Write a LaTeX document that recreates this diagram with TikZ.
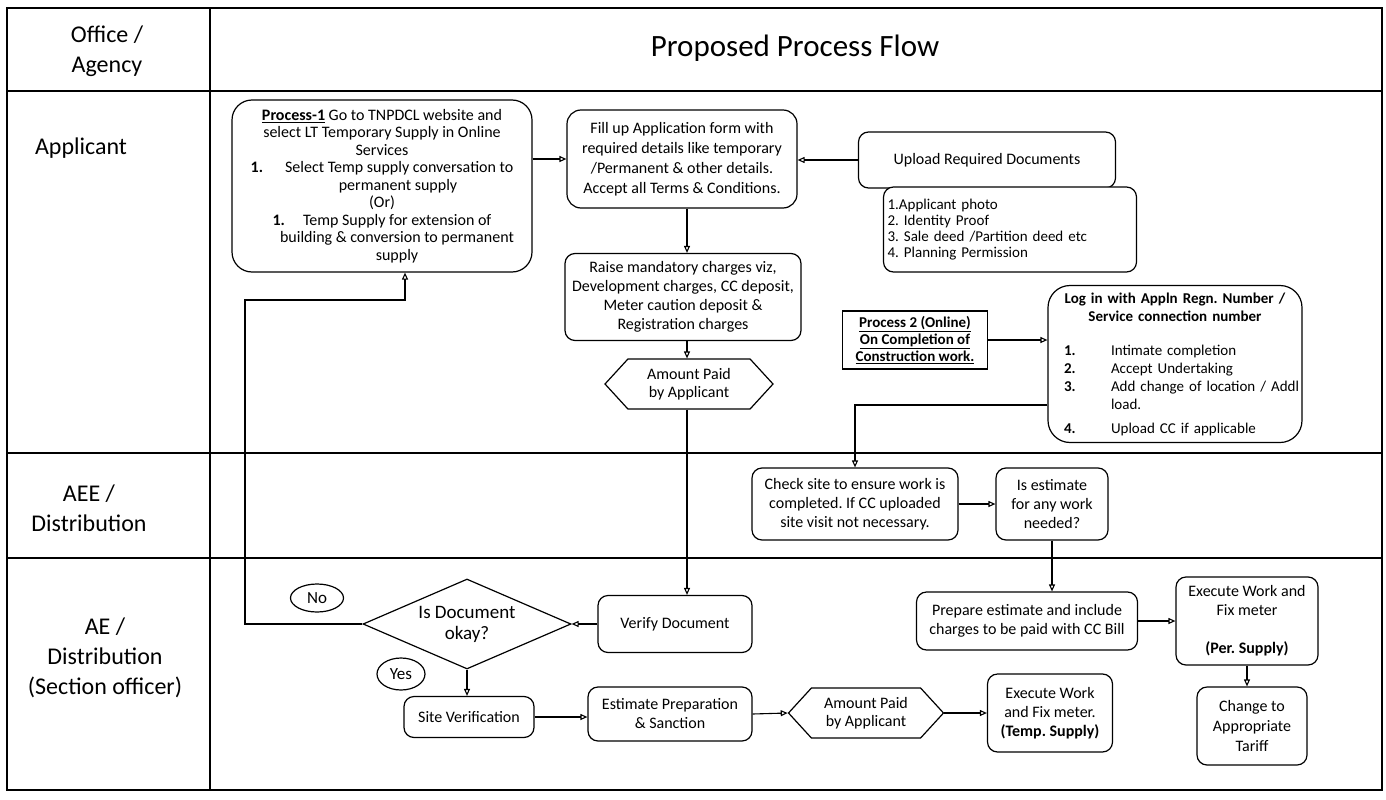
\documentclass[tikz,border=0pt]{standalone}
\usepackage{fontspec}
\setmainfont{Carlito}
\usetikzlibrary{arrows.meta,shapes.symbols,shapes.geometric}
\begin{document}
\frenchspacing
\begin{tikzpicture}[x=1pt,y=-1pt,
  every node/.style={font=\fontsize{16}{19}\selectfont},
  rbox/.style={draw, line width=1.2pt, rounded corners=10pt, align=center, inner sep=2pt},
  arr/.style={line width=1.1pt, -{Triangle[open,length=7pt,width=6pt]}},
  hexa/.style={draw, line width=1.2pt, signal, signal to=east and west, signal pointer angle=95, align=center, inner sep=1pt},
  oval/.style={draw, ellipse, line width=1.2pt, inner sep=1pt, font=\fontsize{17}{19}\selectfont},
  lbl/.style={align=center, font=\fontsize{24}{30}\selectfont},
]
\useasboundingbox (0,0) rectangle (1386,800);

% table
\draw[line width=2pt] (7,8) rectangle (1382,790);
\draw[line width=1.8pt] (210,8) -- (210,790);
\draw[line width=1.4pt] (7,91) -- (1382,91);
\draw[line width=1.4pt] (7,453) -- (1382,453);
\draw[line width=1.4pt] (7,558) -- (1382,558);

% lane labels
\node[lbl] (hdr) at (107,51) {Office /\\Agency};
\node[font=\fontsize{31}{36}\selectfont] (title) at (795,48) {Proposed Process Flow};
\node[lbl] (lapp) at (81,148) {Applicant};
\node[lbl] (laee) at (89,508) {AEE /\\Distribution};
\node[lbl] (lae) at (105,658) {AE /\\Distribution\\(Section officer)};

% applicant lane
\node[rbox, rounded corners=20pt, minimum width=300pt, minimum height=172pt, font=\fontsize{16}{17.5}\selectfont] (p1) at (382,186)
 {\underline{\textbf{Process-1}} Go to TNPDCL website and\\
  select LT Temporary Supply in Online\\
  Services\\
  \textbf{1.}\hspace{22pt}Select Temp supply conversation to\\
  \hspace*{32pt}permanent supply\\
  (Or)\hspace*{16pt}\\
  \textbf{1.}\hspace{18pt}Temp Supply for extension of\\
  \hspace*{30pt}building \& conversion to permanent\\
  \hspace*{30pt}supply};
\node[rbox, rounded corners=14pt, minimum width=230pt, minimum height=98pt, font=\fontsize{16}{20}\selectfont] (fill) at (682,159)
 {Fill up Application form with\\required details like temporary\\/Permanent \& other details.\\Accept all Terms \& Conditions.};
\node[rbox, minimum width=236pt, minimum height=87pt] (raise) at (683,297)
 {Raise mandatory charges viz,\\Development charges, CC deposit,\\Meter caution deposit \&\\Registration charges};
\node[hexa, minimum width=168pt, minimum height=50pt, font=\fontsize{16}{18}\selectfont] (hex1) at (689,384) {Amount Paid\\by Applicant};
\node[rbox, minimum width=257pt, minimum height=56pt] (upload) at (987,160) {Upload Required Documents};
\node[rbox, fill=white, minimum width=253pt, minimum height=85pt, text width=245pt, align=left, inner xsep=4pt, font=\fontsize{15}{16}\selectfont] (docs) at (1010,229.5)
 {1.Applicant photo\\2. Identity Proof\\3. Sale deed /Partition deed etc\\4. Planning Permission};
\node[draw, line width=1.2pt, minimum width=145pt, minimum height=58pt, align=center, font=\fontsize{15}{17}\selectfont\bfseries] (p2) at (915,340)
 {\underline{Process 2 (Online)}\\\underline{On Completion of}\\\underline{Construction work.}};
\node[rbox, rounded corners=22pt, minimum width=254pt, minimum height=157pt, text width=238pt, font=\fontsize{15}{18}\selectfont] (login) at (1175,364)
 {\textbf{Log in with Appln Regn. Number /}\\
  \textbf{Service connection number}\\[16pt]
  \makebox[238pt][l]{\hspace*{8pt}\makebox[47pt][l]{\textbf{1.}}Intimate completion}\\
  \makebox[238pt][l]{\hspace*{8pt}\makebox[47pt][l]{\textbf{2.}}Accept Undertaking}\\
  \makebox[238pt][l]{\hspace*{8pt}\makebox[47pt][l]{\textbf{3.}}\makebox[180pt][s]{Add change of location / Addl}}\\
  \makebox[238pt][l]{\hspace*{55pt}load.}\\[6pt]
  \makebox[238pt][l]{\hspace*{8pt}\makebox[47pt][l]{\textbf{4.}}Upload CC if applicable}};

% AEE lane
\node[rbox, minimum width=206pt, minimum height=72pt] (check) at (855,504) {Check site to ensure work is\\completed. If CC uploaded\\site visit not necessary.};
\node[rbox, minimum width=112pt, minimum height=72pt] (isest) at (1052,504) {Is estimate\\for any work\\needed?};

% AE lane
\node[rbox, minimum width=154pt, minimum height=57pt] (verify) at (675,624) {Verify Document};
\node[draw, diamond, aspect=2.3, line width=1.2pt, inner sep=0pt, minimum width=208pt, minimum height=90pt, align=center, font=\fontsize{19}{21}\selectfont] (dia) at (467,624) {Is Document\\okay?};
\node[oval, minimum width=53pt, minimum height=28pt] (no) at (317,598) {No};
\node[oval, minimum width=48pt, minimum height=32pt] (yes) at (401,674) {Yes};
\node[rbox, minimum width=130pt, minimum height=41pt] (site) at (469,717) {Site Verification};
\node[rbox, minimum width=164pt, minimum height=54pt] (estp) at (670,714) {Estimate Preparation\\\& Sanction};
\node[hexa, minimum width=155pt, minimum height=50pt, font=\fontsize{16}{18}\selectfont] (hex2) at (866,713) {Amount Paid\\by Applicant};
\node[rbox, minimum width=125pt, minimum height=78pt] (exect) at (1050,713) {Execute Work\\and Fix meter.\\\textbf{(Temp. Supply)}};
\node[rbox, minimum width=221pt, minimum height=58pt] (prep) at (1027,621) {Prepare estimate and include\\charges to be paid with CC Bill};
\node[rbox, minimum width=142pt, minimum height=88pt] (execp) at (1247,621) {Execute Work and\\Fix meter\\[19pt]\textbf{(Per. Supply)}};
\node[rbox, minimum width=110pt, minimum height=78pt, font=\fontsize{16}{20}\selectfont] (chg) at (1252,726) {Change to\\Appropriate\\Tariff};

% helper coordinates
\coordinate (cx) at (687,0);
\coordinate (nA) at (245,300);
\coordinate (nB) at (405,300);

% connectors
\draw[arr] (p1.east |- fill.west) -- (fill.west);
\draw[arr] (upload.west) -- (upload.west -| fill.east);
\draw[arr] (fill.south -| cx) -- (raise.north -| cx);
\draw[arr] (raise.south -| cx) -- (hex1.north -| cx);
\draw[arr] (hex1.south -| cx) -- (verify.north -| cx);
\draw[arr] (verify.west) -- (dia.east);
\draw[arr] (dia.west) -| (nA) -- (nB) -- (nB |- p1.south);
\draw[arr] (dia.south) -- (dia.south |- site.north);
\draw[arr] (site.east) -- (site.east -| estp.west);
\draw[arr] (estp.east) -- (hex2.west);
\draw[arr] (hex2.east) -- (exect.west);
\draw[arr] (p2.east) -- (p2.east -| login.west);
\draw[arr] ([yshift=-41pt]login.west) -| (check.north);
\draw[arr] (check.east) -- (isest.west);
\draw[arr] (isest.south) -- (isest.south |- prep.north);
\draw[arr] (prep.east) -- (prep.east -| execp.west);
\draw[arr] (execp.south) -- (execp.south |- chg.north);
\end{tikzpicture}
\end{document}
